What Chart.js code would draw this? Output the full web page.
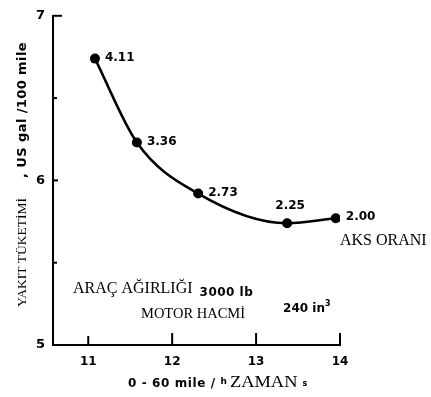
<!DOCTYPE html>
<html>
<head>
<meta charset="utf-8">
<script src="https://cdn.jsdelivr.net/npm/chart.js@4/dist/chart.umd.min.js"></script>
<style>
  html, body { margin: 0; padding: 0; background: #fff; }
  #wrap { width: 431px; height: 397px; }
</style>
</head>
<body>
<div id="wrap"><canvas id="mainCanvas" width="431" height="397"></canvas></div>
<script>
// axle ratio labels and the points
const axleRatios = ["4.11", "3.36", "2.73", "2.25", "2.00"];
const accelTime = [11.08, 11.58, 12.31, 13.37, 13.95];   // 0-60 mile/h, s
const fuelUse = [6.74, 6.23, 5.92, 5.74, 5.77];           // US gal / 100 mile

const xTickValues = [11, 12, 13, 14];
const yTickValues = [5, 6, 7];
const yMinorTicks = [5.5, 6.5];

const SANS = "'DejaVu Sans', sans-serif";
const SERIF = "'Liberation Serif', 'DejaVu Serif', serif";

/**
 * Draws a row of text pieces, each with its own font, one after another.
 * sx stretches a piece sideways, like the scan does
 */
function drawRuns(ctx, runs, x, y, angle) {
  ctx.save();
  ctx.translate(x, y);
  ctx.rotate(angle || 0);
  ctx.textAlign = "left";
  ctx.textBaseline = "alphabetic";
  let cx = 0;
  runs.forEach(r => {
    const sx = r.sx || 1;
    ctx.save();
    ctx.font = r.font;
    if (r.ls) {
      ctx.letterSpacing = r.ls + "px";
    }
    const w = ctx.measureText(r.text).width;
    ctx.translate(cx, r.dy || 0);
    ctx.scale(sx, 1);
    ctx.fillText(r.text, 0, 0);
    ctx.restore();
    cx += w * sx + (r.gap || 0);
  });
  ctx.restore();
}

const decorations = {
  id: "decorations",
  beforeDraw(chart) {
    const ctx = chart.ctx;
    ctx.save();
    ctx.fillStyle = "#fff";
    ctx.fillRect(0, 0, chart.width, chart.height);
    ctx.restore();
  },
  afterDraw(chart) {
    const ctx = chart.ctx;
    const xs = chart.scales.x;
    const ys = chart.scales.y;
    ctx.save();
    ctx.strokeStyle = "#000";
    ctx.fillStyle = "#000";
    ctx.lineWidth = 2;

    // inward ticks
    yTickValues.forEach(v => {
      const py = ys.getPixelForValue(v);
      ctx.beginPath();
      ctx.moveTo(xs.left, py);
      ctx.lineTo(xs.left + (v == 7 ? 9 : 5), py);
      ctx.stroke();
    });
    yMinorTicks.forEach(v => {
      const py = ys.getPixelForValue(v);
      ctx.beginPath();
      ctx.moveTo(xs.left, py);
      ctx.lineTo(xs.left + 4, py);
      ctx.stroke();
    });
    xTickValues.forEach(v => {
      const px = xs.getPixelForValue(v);
      ctx.beginPath();
      ctx.moveTo(px, ys.bottom);
      ctx.lineTo(px, ys.bottom - (v == 11 ? 9 : 12));
      ctx.stroke();
    });

    // axle ratio labels next to each point
    const meta = chart.getDatasetMeta(0);
    ctx.font = "bold 12px " + SANS;
    meta.data.forEach((pt, i) => {
      if (i == 3) {
        ctx.textAlign = "center";
        ctx.fillText(axleRatios[i], pt.x + 3, pt.y - 14);
      } else {
        ctx.textAlign = "left";
        ctx.fillText(axleRatios[i], pt.x + 10, pt.y + 2);
      }
    });

    // free text
    drawRuns(ctx, [{ text: "AKS ORANI", font: "16px " + SERIF }], 340, 245);
    drawRuns(ctx, [
      { text: "ARAÇ AĞIRLIĞI", font: "16px " + SERIF, gap: 7 },
      { text: "3000 lb", font: "bold 12px " + SANS, dy: 3, ls: 0.5 },
    ], 73, 293);
    drawRuns(ctx, [
      { text: "MOTOR HACMİ", font: "14.5px " + SERIF, gap: 38 },
      { text: "240 in", font: "bold 12px " + SANS, dy: -6 },
      { text: "3", font: "bold 8px " + SANS, dy: -12 },
    ], 141, 318);

    // axis titles
    drawRuns(ctx, [
      { text: "0 - 60 mile / ", font: "bold 12px " + SANS, ls: 0.6 },
      { text: "h", font: "bold 9px " + SANS, dy: -3, gap: 3 },
      { text: "ZAMAN", font: "16px " + SERIF, sx: 1.15, gap: 5 },
      { text: "s", font: "bold 8px " + SANS, dy: -1 },
    ], 128, 387);
    drawRuns(ctx, [
      { text: "YAKIT TÜKETİMİ", font: "13.5px " + SERIF, gap: 20 },
      { text: ", US gal /100 mile", font: "bold 13px " + SANS, ls: 0.4 },
    ], 26, 307, -Math.PI / 2);

    ctx.restore();
  },
};

(function main() {
  const ctx = document.getElementById("mainCanvas").getContext("2d");

  new Chart(ctx, {
    type: "line",
    data: {
      datasets: [{
        data: accelTime.map((x, i) => ({ x, y: fuelUse[i] })),
        borderColor: "#000",
        backgroundColor: "#000",
        borderWidth: 2.5,
        pointRadius: 5,
        pointBorderWidth: 0,
        cubicInterpolationMode: "monotone",
        fill: false,
      }],
    },
    options: {
      responsive: false,
      animation: false,
      layout: { padding: { left: 0, top: 10, right: 91, bottom: 0 } },
      plugins: {
        legend: { display: false },
        tooltip: { enabled: false },
      },
      scales: {
        x: {
          type: "linear",
          min: 10.58,
          max: 14,
          afterBuildTicks(scale) {
            scale.ticks = xTickValues.map(value => ({ value }));
          },
          afterFit(scale) { scale.height = 52; },
          grid: { display: false, drawTicks: false },
          border: { display: true, color: "#000", width: 2 },
          ticks: {
            padding: 10,
            color: "#000",
            font: { family: SANS, size: 12, weight: "bold" },
          },
        },
        y: {
          min: 5,
          max: 7,
          afterBuildTicks(scale) {
            scale.ticks = yTickValues.map(value => ({ value }));
          },
          afterFit(scale) { scale.width = 53; },
          grid: { display: false, drawTicks: false },
          border: { display: true, color: "#000", width: 2 },
          ticks: {
            padding: 8,
            color: "#000",
            font: { family: SANS, size: 13, weight: "bold" },
          },
        },
      },
    },
    plugins: [decorations],
  });
})();
</script>
</body>
</html>
